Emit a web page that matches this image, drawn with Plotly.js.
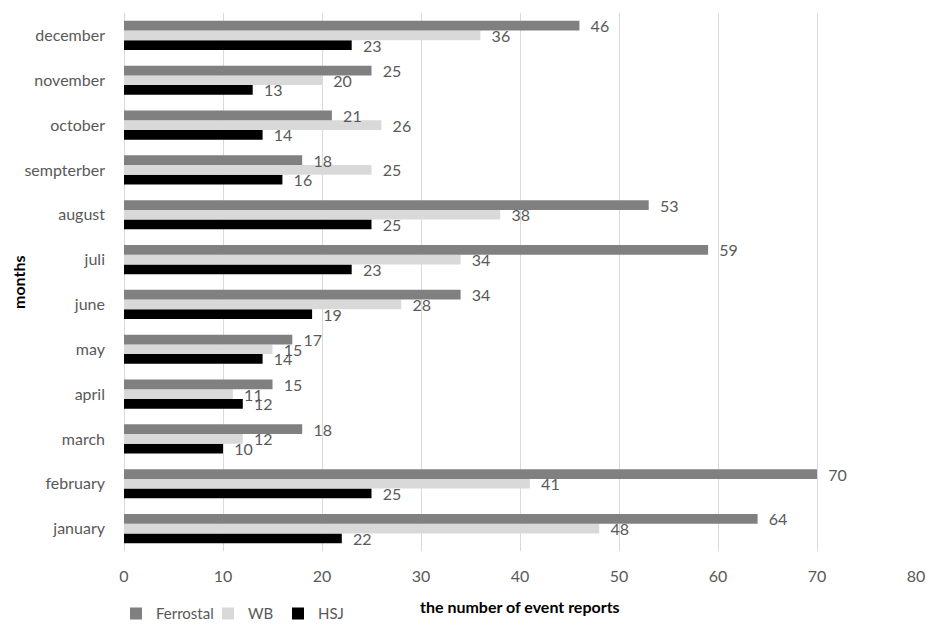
<!DOCTYPE html>
<html>
<head>
<meta charset="utf-8">
<script src="https://cdn.plot.ly/plotly-3.0.1.min.js"></script>
<style>html,body{margin:0;padding:0;background:#fff;}#chart{width:929px;height:625px;}</style>
</head>
<body>
<div id="chart"></div>
<script>
const months = ["january","february","march","april","may","june","juli","august","sempterber","october","november","december"];
const ferrostal = [64, 70, 18, 15, 17, 34, 59, 53, 18, 21, 25, 46];
const wb        = [48, 41, 12, 11, 15, 28, 34, 38, 25, 26, 20, 36];
const hsj       = [22, 25, 10, 12, 14, 19, 23, 25, 16, 14, 13, 23];
const xTicks = [0, 10, 20, 30, 40, 50, 60, 70, 80];
const xTitle = "the number of event reports";
const yTitle = "months";

const FONT = "Lato, 'Open Sans', sans-serif";
const GREY = "#595959";

function series(name, vals, color, legendId) {
  return {
    type: "bar", orientation: "h", name: name, legend: legendId,
    y: months, x: vals,
    texttemplate: "  %{x}", textposition: "outside", cliponaxis: false,
    constraintext: "none",
    textfont: {family: FONT, size: 16, color: GREY},
    marker: {color: color, line: {width: 0}},
    hoverinfo: "x+y+name"
  };
}

const data = [
  series("HSJ", hsj, "#000000", "legend3"),
  series("WB", wb, "#d9d9d9", "legend2"),
  series("Ferrostal", ferrostal, "#808080", "legend")
];

function legendAt(px) {
  return {
    orientation: "h", xref: "container", yref: "container",
    x: px / 929, xanchor: "left", y: 0.018, yanchor: "middle",
    font: {family: FONT, size: 15, color: GREY},
    itemwidth: 30, bgcolor: "rgba(0,0,0,0)"
  };
}

const layout = {
  width: 929, height: 625,
  margin: {l: 124, r: 13, t: 13, b: 74},
  paper_bgcolor: "#fff", plot_bgcolor: "#fff",
  barmode: "group", bargap: 0.35, bargroupgap: 0,
  font: {family: FONT, color: GREY, size: 16},
  xaxis: {
    range: [0, 80], tickvals: xTicks, ticktext: xTicks.map(String),
    showgrid: true, gridcolor: "#d9d9d9", gridwidth: 1,
    zeroline: true, zerolinecolor: "#d9d9d9", zerolinewidth: 1,
    showline: false, ticks: "", ticklabelstandoff: 14,
    tickfont: {family: FONT, size: 16, color: GREY}
  },
  yaxis: {
    type: "category", range: [-0.5, 11.5],
    showgrid: false, zeroline: false, showline: false, ticks: "",
    ticklabelstandoff: 18,
    tickfont: {family: FONT, size: 16, color: GREY}
  },
  annotations: [
    {text: xTitle, xref: "paper", yref: "paper", x: 0.5, y: (551 - 607) / 538,
     xanchor: "center", yanchor: "middle", showarrow: false,
     font: {family: FONT, size: 16, color: "#000", weight: "bold"}},
    {text: yTitle, xref: "paper", yref: "paper", x: (18 - 124) / 792, y: 0.5, textangle: -90,
     xanchor: "center", yanchor: "middle", showarrow: false,
     font: {family: FONT, size: 16, color: "#000", weight: "bold"}}
  ],
  showlegend: true,
  legend: legendAt(116),
  legend2: legendAt(208),
  legend3: legendAt(278)
};

Plotly.newPlot("chart", data, layout, {displayModeBar: false, staticPlot: true});
</script>
</body>
</html>
